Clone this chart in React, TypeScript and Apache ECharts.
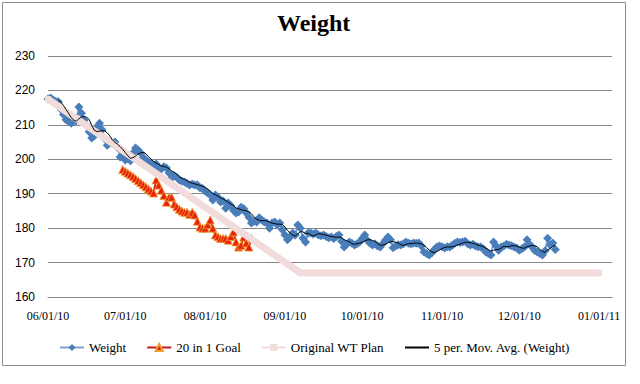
import React, { useEffect, useRef } from 'react';
import * as echarts from 'echarts';

// Weight: one reading per day starting 2010-06-01
const weightStart = '2010-06-01';
const weightValues = [
  217.5, 217.8, 217.2, 216.8, 216.7, 214.5, 213, 211.5, 211, 210.5,
  211, 211.2, 215.2, 213.4, 211.4, 209.8, 208, 206.2, 206.8, 209.4,
  210.5, 208.6, 206, 204.1, 204.8, 204.6, 205, 203.4, 200.7, 201,
  199.8, 200.2, 199.6, 201.8, 203.3, 202.7, 201.8, 200.5, 199.8, 199.2,
  198.9, 198.3, 198.6, 197.5, 197.2, 197.8, 197.5, 196, 194.6, 195.2,
  194.8, 194, 193.6, 193.4, 193, 192.5, 192.8, 192.5, 192.5, 191.7,
  191.5, 190.8, 190.2, 189.6, 188.2, 189.6, 189, 187.6, 187.9, 185.8,
  187.3, 186.5, 185.2, 184.4, 184.7, 186.1, 185.6, 184.4, 183.2, 181.5,
  182, 181.8, 183, 182.4, 181.8, 181.5, 180, 181.5, 181.8, 181,
  181.5, 179.5, 178, 176.6, 177.4, 178.6, 178, 180.9, 180, 177.1,
  176, 178.6, 178.6, 178.3, 178.6, 178, 177.8, 178, 177.6, 177.2,
  177.4, 177, 177.6, 178, 176.2, 174.5, 175.3, 176, 175.6, 175.1,
  175.5, 176, 177, 178, 176.5, 175.6, 175.1, 175.4, 174.8, 174.5,
  175.5, 176.5, 177.4, 176.6, 174.3, 174.8, 175.2, 175.1, 175.5, 176,
  175.6, 175.4, 175.7, 175.6, 175.7, 174.8, 173.1, 172.6, 172.2, 172.8,
  173.8, 174.5, 174.8, 174.6, 174.2, 174.6, 174.5, 175, 175.6, 176,
  175.8, 176, 176.2, 175.5, 175.1, 175.3, 174.8, 174.6, 174.5, 174,
  173.1, 172.6, 172.2, 176, 174.8, 173.6, 174.5, 174.8, 175.3, 175.1,
  174.9, 174.5, 174.2, 173.6, 174, 174.5, 176.6, 175.3, 174.5, 173.5,
  173.1, 172.6, 172.2, 173.4, 177.1, 175.1, 175.7, 173.8,
];

// 20 in 1 Goal: one value per day starting 2010-06-30
const goalStart = '2010-06-30';
const goalValues = [
  197.0, 196.5, 196.0, 195.5, 195.0, 194.4, 193.8, 193.2, 192.6, 192.0,
  191.4, 190.8, 190.2, 194.0, 192.5, 191.0, 189.5, 187.5, 189.0, 189.0,
  187.0, 186.2, 185.5, 185.0, 184.6, 184.6, 184.0, 184.6, 183.8, 182.0,
  180.3, 180.0, 180.0, 181.0, 182.4, 180.0, 178.0, 177.5, 177.0, 177.0,
  177.0, 176.5, 177.6, 178.9, 176.0, 174.5, 175.0, 177.4, 175.7, 174.5,
  177.1,
];

// Original WT Plan
const planDates = ['2010-06-01', '2010-09-07', '2011-01-01'];
const planValues = [217.5, 167, 167];

const axisMinDate = '2010-06-01';
const axisMaxDate = '2011-01-06';
const yMin = 160;
const yMax = 230;
const yStep = 10;
const maPeriod = 5;

const seriesNames = ['Weight', '20 in 1 Goal', 'Original WT Plan', '5 per. Mov. Avg. (Weight)'];

function parseDate(s: string, addDays = 0): number {
  const [y, m, d] = s.split('-').map(Number);
  return new Date(y, m - 1, d + addDays).getTime();
}

function pad(n: number) {
  return n < 10 ? '0' + n : '' + n;
}

export default function App() {
  const ref = useRef<HTMLDivElement>(null);
  useEffect(() => {
    if (!ref.current) return;
    const chart = echarts.init(ref.current, undefined, { renderer: 'svg' });

    const weightData = weightValues.map((v, i) => [parseDate(weightStart, i), v]);
    const goalData = goalValues.map((v, i) => [parseDate(goalStart, i), v]);
    const planData = planDates.map((d, i) => [parseDate(d), planValues[i]]);
    const maData: number[][] = [];
    for (let i = maPeriod - 1; i < weightValues.length; i++) {
      let s = 0;
      for (let k = i - maPeriod + 1; k <= i; k++) s += weightValues[k];
      maData.push([parseDate(weightStart, i), s / maPeriod]);
    }

    const serif = 'Liberation Serif, Times New Roman, serif';
    const option: any = {
      animation: false,
      backgroundColor: '#ffffff',
      title: {
        text: 'Weight',
        left: 277,
        top: 11,
        padding: 0,
        textStyle: { fontFamily: serif, fontSize: 24, fontWeight: 'bold', color: '#000' },
      },
      graphic: [
        {
          type: 'rect',
          shape: { x: 2.5, y: 2.5, width: 623, height: 363 },
          style: { fill: 'none', stroke: '#8c8c8c', lineWidth: 1 },
          silent: true,
        },
      ],
      grid: { left: 48, right: 28, top: 56, bottom: 87 },
      legend: {
        top: 336,
        left: 54,
        itemWidth: 24,
        itemHeight: 9,
        itemGap: 20,
        textStyle: { fontFamily: serif, fontSize: 13, color: '#000' },
        data: [
          { name: seriesNames[0] },
          { name: seriesNames[1] },
          { name: seriesNames[2], lineStyle: { width: 2 } },
          { name: seriesNames[3], itemStyle: { opacity: 0 } },
        ],
      },
      xAxis: {
        type: 'time',
        min: parseDate(axisMinDate),
        max: parseDate(axisMaxDate),
        splitNumber: 7,
        minInterval: 28 * 86400000,
        maxInterval: 31 * 86400000,
        axisLine: { show: true, lineStyle: { color: '#868686', width: 1 } },
        axisTick: { show: false },
        splitLine: { show: false },
        axisLabel: {
          margin: 13,
          fontFamily: serif,
          fontSize: 12,
          color: '#000',
          showMinLabel: true,
          formatter: (v: number) => {
            const d = new Date(v);
            if (d.getDate() !== 1 || d.getHours() !== 0) return '';
            return pad(d.getMonth() + 1) + '/' + pad(d.getDate()) + '/' + pad(d.getFullYear() % 100);
          },
        },
      },
      yAxis: {
        type: 'value',
        min: yMin,
        max: yMax,
        interval: yStep,
        axisLine: { show: false },
        axisTick: { show: false },
        splitLine: { show: true, lineStyle: { color: '#868686', width: 1 } },
        axisLabel: { margin: 13, fontFamily: 'Liberation Sans, Arial, sans-serif', fontSize: 12, color: '#000' },
      },
      series: [
        {
          name: seriesNames[0],
          type: 'line',
          z: 2,
          data: weightData,
          symbol: 'diamond',
          symbolSize: 9,
          showAllSymbol: true,
          itemStyle: { color: '#4A7EBB' },
          lineStyle: { color: '#7FA1CF', width: 2 },
        },
        {
          name: seriesNames[1],
          type: 'line',
          z: 3,
          data: goalData,
          symbol: 'triangle',
          symbolSize: 8,
          showAllSymbol: true,
          itemStyle: { color: '#E8200C', borderColor: '#F0A030', borderWidth: 0.8 },
          lineStyle: { color: '#C0201A', width: 2 },
        },
        {
          name: seriesNames[2],
          type: 'line',
          z: 4,
          data: planData,
          symbol: 'rect',
          symbolSize: 6,
          itemStyle: { color: '#F2DCDB' },
          lineStyle: { color: '#F2DCDB', width: 7 },
        },
        {
          name: seriesNames[3],
          type: 'line',
          z: 5,
          data: maData,
          symbol: 'none',
          itemStyle: { color: '#000' },
          lineStyle: { color: '#000', width: 1 },
        },
      ],
    };
    chart.setOption(option);
    return () => chart.dispose();
  }, []);
  return (
    <div
      ref={ref}
      style={{ position: 'fixed', left: 0, top: 0, width: 640, height: 384, background: '#fff' }}
    />
  );
}
